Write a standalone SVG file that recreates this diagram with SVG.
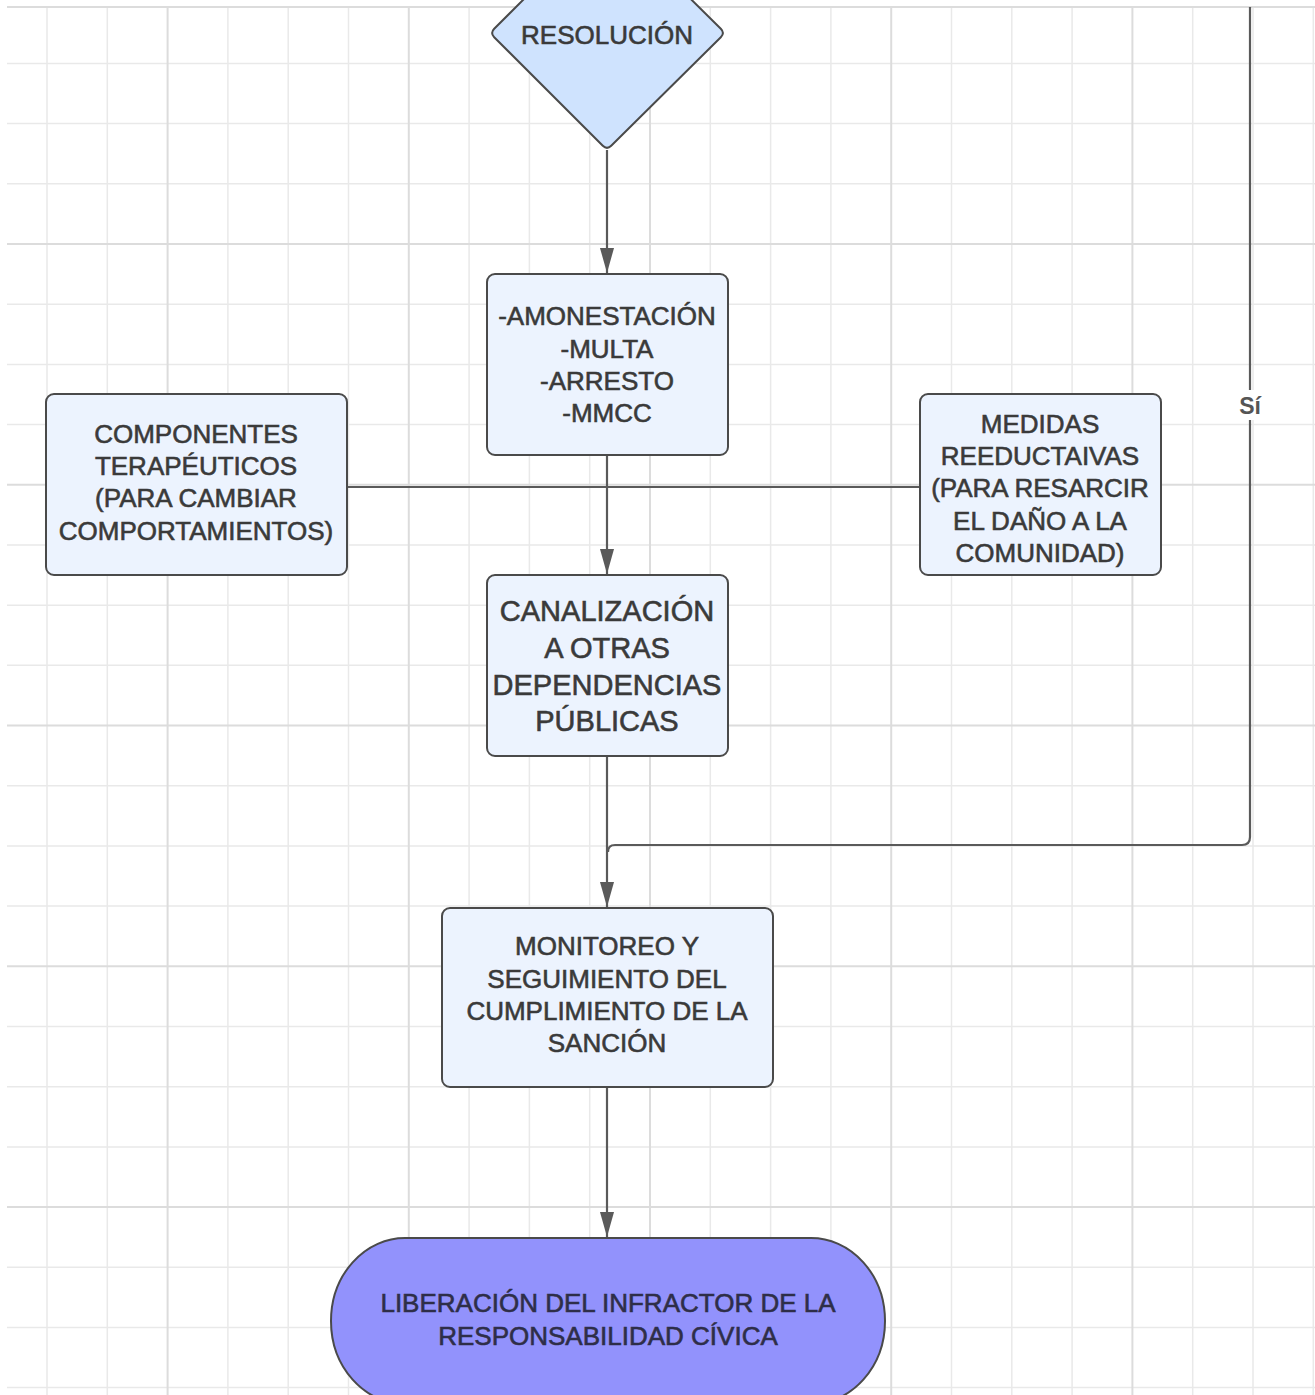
<svg xmlns="http://www.w3.org/2000/svg" width="1315" height="1395" viewBox="0 0 1315 1395">
<defs>
<style>
.minor{stroke:#e9e9e9;stroke-width:1.5}
.major{stroke:#dcdcdc;stroke-width:2}
.node{fill:#ecf3fe;stroke:#4a4a4a;stroke-width:2}
.txt{font-family:"Liberation Sans",Arial,sans-serif;font-size:26px;fill:#3a3a3a;stroke:#3a3a3a;stroke-width:0.6;text-anchor:middle}
.big{font-size:29px}
.conn{fill:none;stroke:#5a5a5a;stroke-width:2.2}
.lbl{font-family:"Liberation Sans",Arial,sans-serif;font-size:23px;font-weight:bold;fill:#555;text-anchor:middle}
</style>
<marker id="arr" markerWidth="26" markerHeight="14" refX="25" refY="7" orient="auto" markerUnits="userSpaceOnUse" viewBox="0 0 26 14">
<path d="M0,0 L25,7 L0,14 Z" fill="#5a5a5a"/>
</marker>
</defs>
<rect width="1315" height="1395" fill="#ffffff"/>
<g id="grid">
<g class="minor">
<line x1="47" y1="7" x2="47" y2="1395"/><line x1="107.3" y1="7" x2="107.3" y2="1395"/><line x1="227.9" y1="7" x2="227.9" y2="1395"/><line x1="288.2" y1="7" x2="288.2" y2="1395"/><line x1="348.5" y1="7" x2="348.5" y2="1395"/><line x1="469.1" y1="7" x2="469.1" y2="1395"/><line x1="529.4" y1="7" x2="529.4" y2="1395"/><line x1="589.7" y1="7" x2="589.7" y2="1395"/><line x1="710.3" y1="7" x2="710.3" y2="1395"/><line x1="770.6" y1="7" x2="770.6" y2="1395"/><line x1="830.9" y1="7" x2="830.9" y2="1395"/><line x1="951.5" y1="7" x2="951.5" y2="1395"/><line x1="1011.8" y1="7" x2="1011.8" y2="1395"/><line x1="1072.1" y1="7" x2="1072.1" y2="1395"/><line x1="1192.7" y1="7" x2="1192.7" y2="1395"/><line x1="1253" y1="7" x2="1253" y2="1395"/><line x1="1313.3" y1="7" x2="1313.3" y2="1395"/>
<line x1="7" y1="63.4" x2="1315" y2="63.4"/><line x1="7" y1="123.6" x2="1315" y2="123.6"/><line x1="7" y1="183.8" x2="1315" y2="183.8"/><line x1="7" y1="304.2" x2="1315" y2="304.2"/><line x1="7" y1="364.4" x2="1315" y2="364.4"/><line x1="7" y1="424.6" x2="1315" y2="424.6"/><line x1="7" y1="545" x2="1315" y2="545"/><line x1="7" y1="605.2" x2="1315" y2="605.2"/><line x1="7" y1="665.3" x2="1315" y2="665.3"/><line x1="7" y1="785.7" x2="1315" y2="785.7"/><line x1="7" y1="845.9" x2="1315" y2="845.9"/><line x1="7" y1="906.1" x2="1315" y2="906.1"/><line x1="7" y1="1026.5" x2="1315" y2="1026.5"/><line x1="7" y1="1086.7" x2="1315" y2="1086.7"/><line x1="7" y1="1146.9" x2="1315" y2="1146.9"/><line x1="7" y1="1267.2" x2="1315" y2="1267.2"/><line x1="7" y1="1327.4" x2="1315" y2="1327.4"/><line x1="7" y1="1387.6" x2="1315" y2="1387.6"/>
</g>
<g class="major">
<line x1="167.6" y1="7" x2="167.6" y2="1395"/><line x1="408.8" y1="7" x2="408.8" y2="1395"/><line x1="650" y1="7" x2="650" y2="1395"/><line x1="891.2" y1="7" x2="891.2" y2="1395"/><line x1="1132.4" y1="7" x2="1132.4" y2="1395"/>
<line x1="7" y1="244" x2="1315" y2="244"/><line x1="7" y1="484.8" x2="1315" y2="484.8"/><line x1="7" y1="725.5" x2="1315" y2="725.5"/><line x1="7" y1="966.3" x2="1315" y2="966.3"/><line x1="7" y1="1207" x2="1315" y2="1207"/>
<line x1="7" y1="7" x2="1315" y2="7"/>
</g>
</g>
<g id="connectors">
<path class="conn" d="M607,150 L607,273" marker-end="url(#arr)"/>
<path class="conn" d="M607,455 L607,574" marker-end="url(#arr)"/>
<path class="conn" d="M347,487 L920,487"/>
<path class="conn" d="M607,756 L607,907" marker-end="url(#arr)"/>
<path class="conn" d="M1250,7 L1250,837 Q1250,845 1242,845 L615,845 Q608,845 608,852"/>
<path class="conn" d="M607,1087 L607,1237" marker-end="url(#arr)"/>
<rect x="1235" y="390" width="30" height="30" fill="#ffffff"/>
<text class="lbl" x="1250" y="414">Sí</text>
</g>
<g id="resolucion">
<path d="M607,-84 L720.8,28.8 Q725,33 720.8,37.2 L611.2,145.8 Q607,150 602.8,145.8 L494.2,37.2 Q490,33 494.2,28.8 Z" fill="#cfe3fe" stroke="#4a4a4a" stroke-width="2" stroke-linejoin="round"/>
<text class="txt" x="607" y="44">RESOLUCIÓN</text>
</g>
<g id="sanciones">
<rect class="node" x="487" y="274" width="241" height="181" rx="8"/>
<text class="txt" x="607" y="325">-AMONESTACIÓN</text>
<text class="txt" x="607" y="358">-MULTA</text>
<text class="txt" x="607" y="390">-ARRESTO</text>
<text class="txt" x="607" y="422">-MMCC</text>
</g>
<g id="componentes">
<rect class="node" x="46" y="394" width="301" height="181" rx="8"/>
<text class="txt" x="196" y="443">COMPONENTES</text>
<text class="txt" x="196" y="475">TERAPÉUTICOS</text>
<text class="txt" x="196" y="507">(PARA CAMBIAR</text>
<text class="txt" x="196" y="540">COMPORTAMIENTOS)</text>
</g>
<g id="medidas">
<rect class="node" x="920" y="394" width="241" height="181" rx="8"/>
<text class="txt" x="1040" y="433">MEDIDAS</text>
<text class="txt" x="1040" y="465">REEDUCTAIVAS</text>
<text class="txt" x="1040" y="497">(PARA RESARCIR</text>
<text class="txt" x="1040" y="530">EL DAÑO A LA</text>
<text class="txt" x="1040" y="562">COMUNIDAD)</text>
</g>
<g id="canalizacion">
<rect class="node" x="487" y="575" width="241" height="181" rx="8"/>
<text class="txt big" x="607" y="621">CANALIZACIÓN</text>
<text class="txt big" x="607" y="658">A OTRAS</text>
<text class="txt big" x="607" y="695">DEPENDENCIAS</text>
<text class="txt big" x="607" y="731">PÚBLICAS</text>
</g>
<g id="monitoreo">
<rect class="node" x="442" y="908" width="331" height="179" rx="8"/>
<text class="txt" x="607" y="955">MONITOREO Y</text>
<text class="txt" x="607" y="988">SEGUIMIENTO DEL</text>
<text class="txt" x="607" y="1020">CUMPLIMIENTO DE LA</text>
<text class="txt" x="607" y="1052">SANCIÓN</text>
</g>
<g id="liberacion">
<rect x="331" y="1238" width="554" height="166" rx="74" ry="83" fill="#9292fc" stroke="#4a4a4a" stroke-width="2"/>
<text class="txt" x="608" y="1312" style="fill:#2e2e48;stroke:#2e2e48">LIBERACIÓN DEL INFRACTOR DE LA</text>
<text class="txt" x="608" y="1345" style="fill:#2e2e48;stroke:#2e2e48">RESPONSABILIDAD CÍVICA</text>
</g>
</svg>
